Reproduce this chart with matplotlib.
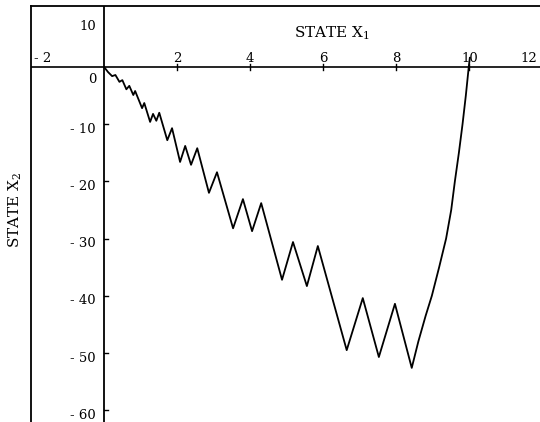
import matplotlib
matplotlib.use("Agg")
import matplotlib.pyplot as plt
import matplotlib.transforms as mtransforms

# trajectory (state x1, state x2)
x1 = [0.00, 0.11, 0.22, 0.31, 0.42, 0.50, 0.61, 0.69, 0.80, 0.85,
      1.04, 1.10, 1.26, 1.34, 1.43, 1.51, 1.73, 1.86, 2.08, 2.22,
      2.38, 2.55, 2.87, 3.09, 3.53, 3.80, 4.05, 4.30, 4.87, 5.17,
      5.55, 5.85, 6.64, 7.08, 7.52, 7.96, 8.42, 8.60, 8.80, 8.97,
      9.17, 9.36, 9.50, 9.60, 9.71, 9.81, 9.90, 9.98, 10.01]
x2 = [0.0, -0.9, -1.6, -1.4, -2.6, -2.3, -3.9, -3.3, -4.9, -4.2,
      -7.2, -6.3, -9.6, -8.2, -9.4, -8.0, -12.8, -10.7, -16.6, -13.8,
      -17.1, -14.2, -22.0, -18.4, -28.2, -23.1, -28.7, -23.8, -37.2, -30.6,
      -38.3, -31.3, -49.5, -40.4, -50.7, -41.4, -52.6, -48.0, -43.5, -40.0,
      -35.0, -30.0, -25.0, -20.0, -15.0, -10.0, -5.0, 0.0, 1.6]

xticks = [-2, 2, 4, 6, 8, 10, 12]
yticks = [10, 0, -10, -20, -30, -40, -50, -60]

plt.rcParams["font.family"] = "DejaVu Serif"
plt.rcParams["mathtext.fontset"] = "dejavuserif"

fig = plt.figure(figsize=(5.4, 4.22), dpi=100)
ax = fig.add_axes([31 / 540, 0, 1 - 31 / 540, 1 - 6 / 422])
ax.set_xlim(-2, 11.93)
ax.set_ylim(-62.06, 10.66)

# frame: only left and top edges drawn
for side in ["right", "bottom"]:
    ax.spines[side].set_visible(False)
ax.spines["left"].set_linewidth(1.3)
ax.spines["top"].set_linewidth(1.3)
ax.set_xticks([])
ax.set_yticks([])

# axes through the origin
ax.axhline(0, color="black", lw=1.2, zorder=2)
ax.axvline(0, color="black", lw=1.3, zorder=2)

ax.plot(x1, x2, color="black", lw=1.3, zorder=3)

# tick marks and labels
def offset(dx, dy):
    return ax.transData + mtransforms.ScaledTranslation(dx / 100, dy / 100, fig.dpi_scale_trans)

for v in xticks:
    if v not in (-2, 12):
        ax.plot([v, v], [-0.6, 0.6], color="black", lw=1)
    ha = "center"
    dx = 0
    if v == -2:
        ha, dx = "left", 3
    elif v == 12:
        ha, dx = "right", -5
    ax.text(v, 0, str(v).replace("-", "- "), ha=ha, va="bottom", fontsize=9.5,
            transform=offset(dx, 2))

for v in yticks:
    if v not in (0, 10):
        ax.plot([0, 0.12], [v, v], color="black", lw=1)
    dy = -5
    if v == 0:
        dy = -13
    elif v == 10:
        dy = -17
    ax.text(0, v, str(v).replace("-", "- "), ha="right", va="center", fontsize=9.5,
            transform=offset(-8, dy))

ax.text(6.25, 5.9, "STATE X$_1$", ha="center", va="center", fontsize=11)
fig.text(15 / 540, 1 - 210 / 422, "STATE X$_2$", rotation=90, ha="center", va="center",
         fontsize=11)

fig.savefig("out.png", dpi=100)
